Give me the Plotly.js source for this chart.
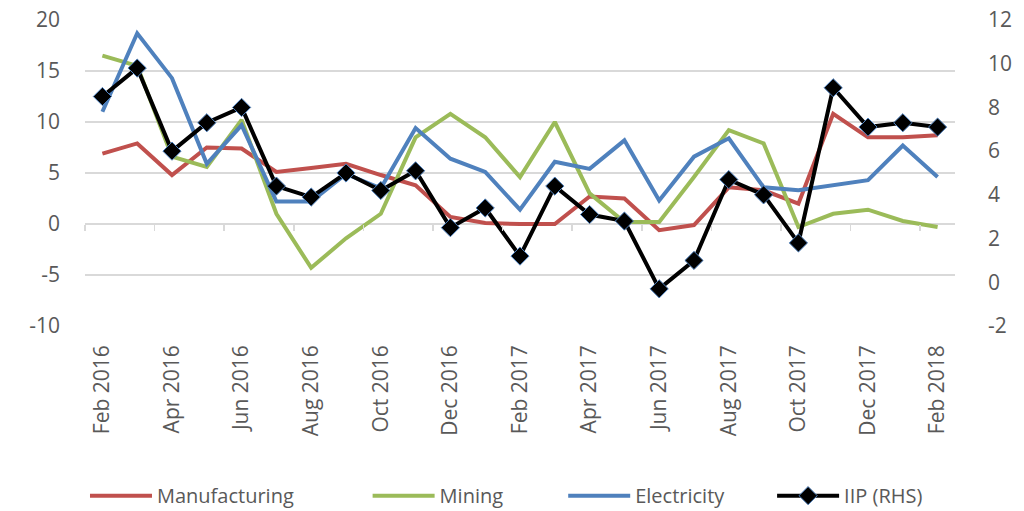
<!DOCTYPE html>
<html>
<head>
<meta charset="utf-8">
<script src="https://cdn.plot.ly/plotly-3.0.1.min.js"></script>
<style>html,body{margin:0;padding:0;background:#fff;}#chart{width:1024px;height:511px;}</style>
</head>
<body>
<div id="chart"></div>
<script>
const months = ["Feb 2016","Mar 2016","Apr 2016","May 2016","Jun 2016","Jul 2016","Aug 2016","Sep 2016","Oct 2016","Nov 2016","Dec 2016",
  "Jan 2017","Feb 2017","Mar 2017","Apr 2017","May 2017","Jun 2017","Jul 2017","Aug 2017","Sep 2017","Oct 2017","Nov 2017","Dec 2017",
  "Jan 2018","Feb 2018"];
const manufacturing = [6.9,7.9,4.8,7.5,7.4,5.1,5.5,5.9,4.8,3.8,0.7,0.1,0.0,0.0,2.7,2.5,-0.6,-0.1,3.6,3.3,2.0,10.8,8.5,8.5,8.7];
const mining = [16.5,15.5,6.6,5.6,10.2,1.0,-4.3,-1.4,1.0,8.5,10.8,8.5,4.6,10.0,3.0,0.2,0.2,4.6,9.2,7.9,-0.3,1.0,1.4,0.3,-0.3];
const electricity = [11.0,18.7,14.3,5.9,9.7,2.2,2.2,4.9,3.5,9.4,6.4,5.1,1.4,6.1,5.4,8.2,2.3,6.6,8.4,3.6,3.3,3.8,4.3,7.7,4.6];
const iip = [8.5,9.8,6.0,7.3,8.0,4.4,3.9,5.0,4.2,5.1,2.5,3.4,1.2,4.4,3.1,2.8,-0.3,1.0,4.7,4.0,1.8,8.9,7.1,7.3,7.1];

const leftTickVals = [-10,-5,0,5,10,15,20];
const leftTickText = ["-10","-5","0","5","10","15","20"];
const rightTickVals = [-2,0,2,4,6,8,10,12];
const rightTickText = ["-2","0","2","4","6","8","10","12"];

const FONT = "'Open Sans', sans-serif";
const GRAY = "#595959";
const FS = 21;

const traces = [
  {x: months, y: manufacturing, name: "Manufacturing", type: "scatter", mode: "lines",
   line: {color: "#C0504D", width: 4}, legend: "legend"},
  {x: months, y: mining, name: "Mining", type: "scatter", mode: "lines",
   line: {color: "#9BBB59", width: 4}, legend: "legend2"},
  {x: months, y: electricity, name: "Electricity", type: "scatter", mode: "lines",
   line: {color: "#4F81BD", width: 4}, legend: "legend3"},
  {x: months, y: iip, name: "IIP (RHS)", type: "scatter", mode: "lines+markers",
   xaxis: "x2", yaxis: "y2",
   line: {color: "#000000", width: 4},
   marker: {symbol: "diamond", size: 14, color: "#000000", line: {color: "#4F81BD", width: 1}},
   legend: "legend4"}
];

const legBase = {orientation: "h", xref: "container", yref: "container", yanchor: "middle", y: 0.03,
  xanchor: "left", itemwidth: 62,
  font: {family: FONT, size: 20, color: GRAY}, bgcolor: "rgba(0,0,0,0)"};

const layout = {
  width: 1024, height: 511,
  margin: {l: 85, r: 69, t: 20, b: 185, autoexpand: false},
  paper_bgcolor: "#fff", plot_bgcolor: "#fff",
  font: {family: FONT, size: FS, color: GRAY},
  showlegend: true,
  xaxis: {type: "category", range: [-0.5, 24.5], dtick: 2, tick0: 0, tickangle: -90,
    showgrid: false, zeroline: false, showline: false, ticks: "",
    ticklabelstandoff: 14,
    tickfont: {family: FONT, size: FS, color: GRAY}},
  xaxis2: {type: "category", overlaying: "x", anchor: "free", position: 1/3, side: "bottom",
    range: [-0.5, 24.5], dtick: 2, tick0: 0, tickson: "boundaries",
    ticks: "outside", ticklen: 6, tickcolor: "#d9d9d9", tickwidth: 1.5,
    showticklabels: false, showgrid: false, zeroline: false, showline: false},
  yaxis: {range: [-10, 20], tickmode: "array", tickvals: leftTickVals, ticktext: leftTickText,
    showgrid: true, gridcolor: "#d9d9d9", gridwidth: 1.5,
    zeroline: false, showline: false, ticks: "", ticklabelstandoff: 24,
    tickfont: {family: FONT, size: FS, color: GRAY}},
  yaxis2: {range: [-2, 12], tickmode: "array", tickvals: rightTickVals, ticktext: rightTickText,
    overlaying: "y", side: "right", showgrid: false,
    zeroline: false, showline: false, ticks: "", ticklabelstandoff: 32,
    tickfont: {family: FONT, size: FS, color: GRAY}},
  legend: Object.assign({}, legBase, {x: 0.083}),
  legend2: Object.assign({}, legBase, {x: 0.359}),
  legend3: Object.assign({}, legBase, {x: 0.550}),
  legend4: Object.assign({}, legBase, {x: 0.754})
};

Plotly.newPlot("chart", traces, layout, {displayModeBar: false, staticPlot: true});
</script>
</body>
</html>
